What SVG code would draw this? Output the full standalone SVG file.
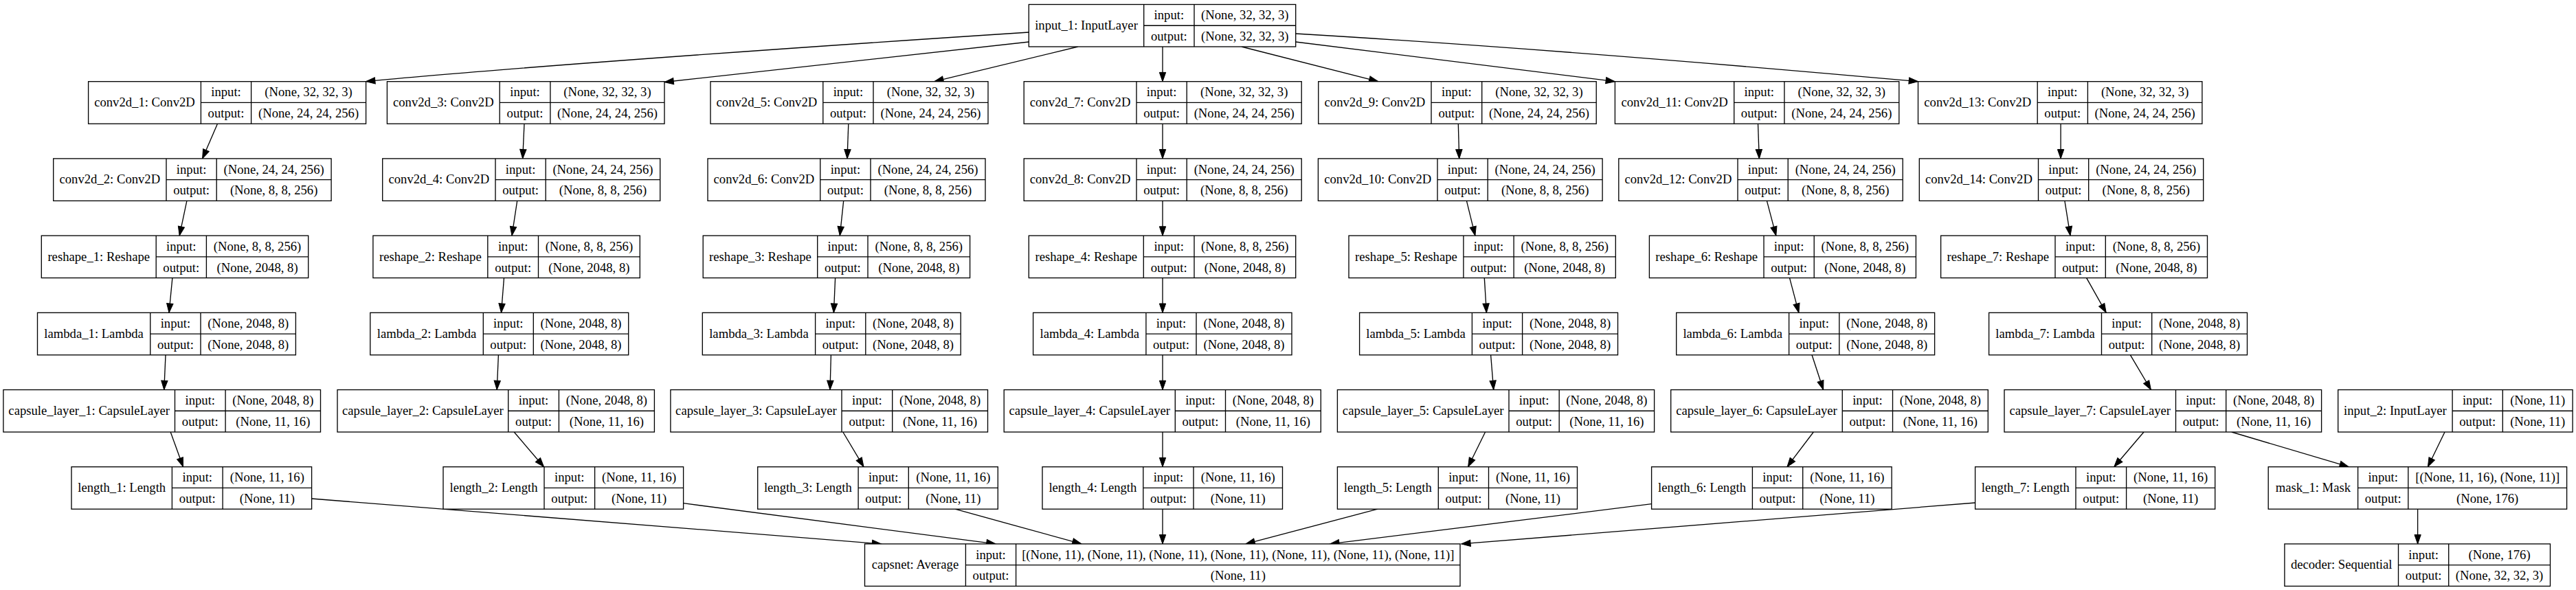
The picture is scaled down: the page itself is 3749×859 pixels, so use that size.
<svg xmlns="http://www.w3.org/2000/svg" width="3749" height="859" viewBox="0 0 3749 859">
<style>
.node rect{fill:#fff;stroke:#000;stroke-width:1.33}
.node path{fill:none;stroke:#000;stroke-width:1.33}
.node text{font-family:"Liberation Serif","Times New Roman",serif;font-size:18.67px;text-anchor:middle;fill:#000}
#edges path{fill:none;stroke:#000;stroke-width:1.33;marker-end:url(#arr)}
</style>
<defs>
<marker id="arr" markerUnits="userSpaceOnUse" viewBox="0 0 14 10" markerWidth="14" markerHeight="10" refX="13.3" refY="4.67" orient="auto" overflow="visible"><path d="M0,0 L13.3,4.67 L0,9.33 z" fill="#000" stroke="#000" stroke-width="1"/></marker>
</defs>
<rect x="0" y="0" width="3749" height="859" fill="#fff"/>
<g id="edges">
<path d="M1497.3,47 C997.3,79.5 652.6,106.7 532.6,118.7"/>
<path d="M1497.3,61 L967,119.5"/>
<path d="M1568.75,68 L1359.8,118.7"/>
<path d="M1692,68 L1692,118.7"/>
<path d="M1807,68 L2005.8,118.7"/>
<path d="M1885.7,61 L2350.4,118.7"/>
<path d="M1885.7,49 C2185.7,66.7 2491.5,91.7 2791.5,118.7"/>
<path d="M316.5,180.2 L294.6,230.9"/>
<path d="M271.9,292.4 L261.2,343.1"/>
<path d="M250.9,404.6 L246,455.3"/>
<path d="M241,516.8 L238.8,567.5"/>
<path d="M248.2,629 L266.5,679.7"/>
<path d="M763,180.2 L760.7,230.9"/>
<path d="M752.7,292.4 L745,343.1"/>
<path d="M733.5,404.6 L729.5,455.3"/>
<path d="M725.4,516.8 L723.2,567.5"/>
<path d="M748.2,629 L791.5,679.7"/>
<path d="M1234.8,180.2 L1233,230.9"/>
<path d="M1227.7,292.4 L1222.3,343.1"/>
<path d="M1215.6,404.6 L1213.4,455.3"/>
<path d="M1209.4,516.8 L1208,567.5"/>
<path d="M1226.8,629 L1257,679.7"/>
<path d="M1692,180.2 L1692,230.9"/>
<path d="M1692,292.4 L1692,343.1"/>
<path d="M1692,404.6 L1692,455.3"/>
<path d="M1692,516.8 L1692,567.5"/>
<path d="M1692,629 L1692,679.7"/>
<path d="M2122.3,180.2 L2123.7,230.9"/>
<path d="M2134.4,292.4 L2146.9,343.1"/>
<path d="M2160.3,404.6 L2163.4,455.3"/>
<path d="M2169.6,516.8 L2173.7,567.5"/>
<path d="M2161.6,629 L2136.6,679.7"/>
<path d="M2558.5,180.2 L2560.3,230.9"/>
<path d="M2571.4,292.4 L2584.8,343.1"/>
<path d="M2604.5,404.6 L2617.9,455.3"/>
<path d="M2637,516.8 L2653.6,567.5"/>
<path d="M2639.3,629 L2600.9,679.7"/>
<path d="M2999.1,180.2 L2999.1,230.9"/>
<path d="M3004.9,292.4 L3013,343.1"/>
<path d="M3036.6,404.6 L3065.2,455.3"/>
<path d="M3100.4,516.8 L3130.4,567.5"/>
<path d="M3120,629 L3076.8,679.7"/>
<path d="M3247.8,629 L3418.3,679.7"/>
<path d="M3558,629 L3533.4,679.7"/>
<path d="M3518.6,741.2 L3518.6,791.9"/>
<path d="M453.6,726 L1282.6,791.9"/>
<path d="M994.6,732.7 L1449,791.9"/>
<path d="M1390,741.2 L1574,791.9"/>
<path d="M1692,741.2 L1692,791.9"/>
<path d="M2005,741.2 L1813,791.9"/>
<path d="M2403.6,733.7 L1935.7,791.9"/>
<path d="M2874.6,732 L2126.8,791.9"/>
</g>

<g id="input_1" class="node" transform="translate(0,6.5)"><rect x="1497.3" y="0" width="388.4" height="61.5"/><path d="M1664.7,0V61.5M1738,0V61.5M1664.7,30.75H1885.7"/><text x="1581" y="36.5">input_1: InputLayer</text><text x="1701.35" y="21.8">input:</text><text x="1701.35" y="52.5">output:</text><text x="1811.85" y="21.8">(None, 32, 32, 3)</text><text x="1811.85" y="52.5">(None, 32, 32, 3)</text></g>

<g id="conv2d_1" class="node" transform="translate(0,118.7)"><rect x="128.6" y="0" width="404" height="61.5"/><path d="M292.4,0V61.5M365.6,0V61.5M292.4,30.75H532.6"/><text x="210.5" y="36.5">conv2d_1: Conv2D</text><text x="329" y="21.8">input:</text><text x="329" y="52.5">output:</text><text x="449.1" y="21.8">(None, 32, 32, 3)</text><text x="449.1" y="52.5">(None, 24, 24, 256)</text></g>
<g id="conv2d_3" class="node" transform="translate(0,118.7)"><rect x="563.4" y="0" width="403.6" height="61.5"/><path d="M727.2,0V61.5M800.9,0V61.5M727.2,30.75H967"/><text x="645.3" y="36.5">conv2d_3: Conv2D</text><text x="764.05" y="21.8">input:</text><text x="764.05" y="52.5">output:</text><text x="883.95" y="21.8">(None, 32, 32, 3)</text><text x="883.95" y="52.5">(None, 24, 24, 256)</text></g>
<g id="conv2d_5" class="node" transform="translate(0,118.7)"><rect x="1034" y="0" width="404" height="61.5"/><path d="M1197.8,0V61.5M1271,0V61.5M1197.8,30.75H1438"/><text x="1115.9" y="36.5">conv2d_5: Conv2D</text><text x="1234.4" y="21.8">input:</text><text x="1234.4" y="52.5">output:</text><text x="1354.5" y="21.8">(None, 32, 32, 3)</text><text x="1354.5" y="52.5">(None, 24, 24, 256)</text></g>
<g id="conv2d_7" class="node" transform="translate(0,118.7)"><rect x="1490.2" y="0" width="404" height="61.5"/><path d="M1654,0V61.5M1727.2,0V61.5M1654,30.75H1894.2"/><text x="1572.1" y="36.5">conv2d_7: Conv2D</text><text x="1690.6" y="21.8">input:</text><text x="1690.6" y="52.5">output:</text><text x="1810.7" y="21.8">(None, 32, 32, 3)</text><text x="1810.7" y="52.5">(None, 24, 24, 256)</text></g>
<g id="conv2d_9" class="node" transform="translate(0,118.7)"><rect x="1918.75" y="0" width="404.45" height="61.5"/><path d="M2083,0V61.5M2156.7,0V61.5M2083,30.75H2323.2"/><text x="2000.9" y="36.5">conv2d_9: Conv2D</text><text x="2119.85" y="21.8">input:</text><text x="2119.85" y="52.5">output:</text><text x="2239.95" y="21.8">(None, 32, 32, 3)</text><text x="2239.95" y="52.5">(None, 24, 24, 256)</text></g>
<g id="conv2d_11" class="node" transform="translate(0,118.7)"><rect x="2350.4" y="0" width="413.4" height="61.5"/><path d="M2523.7,0V61.5M2596.9,0V61.5M2523.7,30.75H2763.8"/><text x="2437.05" y="36.5">conv2d_11: Conv2D</text><text x="2560.3" y="21.8">input:</text><text x="2560.3" y="52.5">output:</text><text x="2680.35" y="21.8">(None, 32, 32, 3)</text><text x="2680.35" y="52.5">(None, 24, 24, 256)</text></g>
<g id="conv2d_13" class="node" transform="translate(0,118.7)"><rect x="2791.5" y="0" width="413.4" height="61.5"/><path d="M2965.2,0V61.5M3038.4,0V61.5M2965.2,30.75H3204.9"/><text x="2878.35" y="36.5">conv2d_13: Conv2D</text><text x="3001.8" y="21.8">input:</text><text x="3001.8" y="52.5">output:</text><text x="3121.65" y="21.8">(None, 32, 32, 3)</text><text x="3121.65" y="52.5">(None, 24, 24, 256)</text></g>

<g id="conv2d_2" class="node" transform="translate(0,230.9)"><rect x="77.7" y="0" width="404.4" height="61.5"/><path d="M242,0V61.5M315.2,0V61.5M242,30.75H482.1"/><text x="159.85" y="36.5">conv2d_2: Conv2D</text><text x="278.6" y="21.8">input:</text><text x="278.6" y="52.5">output:</text><text x="398.65" y="21.8">(None, 24, 24, 256)</text><text x="398.65" y="52.5">(None, 8, 8, 256)</text></g>
<g id="conv2d_4" class="node" transform="translate(0,230.9)"><rect x="556.7" y="0" width="404" height="61.5"/><path d="M721,0V61.5M794.2,0V61.5M721,30.75H960.7"/><text x="638.85" y="36.5">conv2d_4: Conv2D</text><text x="757.6" y="21.8">input:</text><text x="757.6" y="52.5">output:</text><text x="877.45" y="21.8">(None, 24, 24, 256)</text><text x="877.45" y="52.5">(None, 8, 8, 256)</text></g>
<g id="conv2d_6" class="node" transform="translate(0,230.9)"><rect x="1030" y="0" width="404" height="61.5"/><path d="M1193.75,0V61.5M1267,0V61.5M1193.75,30.75H1434"/><text x="1111.9" y="36.5">conv2d_6: Conv2D</text><text x="1230.4" y="21.8">input:</text><text x="1230.4" y="52.5">output:</text><text x="1350.5" y="21.8">(None, 24, 24, 256)</text><text x="1350.5" y="52.5">(None, 8, 8, 256)</text></g>
<g id="conv2d_8" class="node" transform="translate(0,230.9)"><rect x="1490.2" y="0" width="404" height="61.5"/><path d="M1654,0V61.5M1727.2,0V61.5M1654,30.75H1894.2"/><text x="1572.1" y="36.5">conv2d_8: Conv2D</text><text x="1690.6" y="21.8">input:</text><text x="1690.6" y="52.5">output:</text><text x="1810.7" y="21.8">(None, 24, 24, 256)</text><text x="1810.7" y="52.5">(None, 8, 8, 256)</text></g>
<g id="conv2d_10" class="node" transform="translate(0,230.9)"><rect x="1918.4" y="0" width="413.7" height="61.5"/><path d="M2092,0V61.5M2165.2,0V61.5M2092,30.75H2332.1"/><text x="2005.2" y="36.5">conv2d_10: Conv2D</text><text x="2128.6" y="21.8">input:</text><text x="2128.6" y="52.5">output:</text><text x="2248.65" y="21.8">(None, 24, 24, 256)</text><text x="2248.65" y="52.5">(None, 8, 8, 256)</text></g>
<g id="conv2d_12" class="node" transform="translate(0,230.9)"><rect x="2355.8" y="0" width="413.4" height="61.5"/><path d="M2529,0V61.5M2602.2,0V61.5M2529,30.75H2769.2"/><text x="2442.4" y="36.5">conv2d_12: Conv2D</text><text x="2565.6" y="21.8">input:</text><text x="2565.6" y="52.5">output:</text><text x="2685.7" y="21.8">(None, 24, 24, 256)</text><text x="2685.7" y="52.5">(None, 8, 8, 256)</text></g>
<g id="conv2d_14" class="node" transform="translate(0,230.9)"><rect x="2793.3" y="0" width="413.4" height="61.5"/><path d="M2966.5,0V61.5M3039.7,0V61.5M2966.5,30.75H3206.7"/><text x="2879.9" y="36.5">conv2d_14: Conv2D</text><text x="3003.1" y="21.8">input:</text><text x="3003.1" y="52.5">output:</text><text x="3123.2" y="21.8">(None, 24, 24, 256)</text><text x="3123.2" y="52.5">(None, 8, 8, 256)</text></g>

<g id="reshape_1" class="node" transform="translate(0,343.1)"><rect x="60.3" y="0" width="388.4" height="61.5"/><path d="M227.2,0V61.5M300.4,0V61.5M227.2,30.75H448.7"/><text x="143.75" y="36.5">reshape_1: Reshape</text><text x="263.8" y="21.8">input:</text><text x="263.8" y="52.5">output:</text><text x="374.55" y="21.8">(None, 8, 8, 256)</text><text x="374.55" y="52.5">(None, 2048, 8)</text></g>
<g id="reshape_2" class="node" transform="translate(0,343.1)"><rect x="542.9" y="0" width="388.4" height="61.5"/><path d="M709.8,0V61.5M783.5,0V61.5M709.8,30.75H931.3"/><text x="626.35" y="36.5">reshape_2: Reshape</text><text x="746.65" y="21.8">input:</text><text x="746.65" y="52.5">output:</text><text x="857.4" y="21.8">(None, 8, 8, 256)</text><text x="857.4" y="52.5">(None, 2048, 8)</text></g>
<g id="reshape_3" class="node" transform="translate(0,343.1)"><rect x="1023.2" y="0" width="388.4" height="61.5"/><path d="M1189.7,0V61.5M1263,0V61.5M1189.7,30.75H1411.6"/><text x="1106.45" y="36.5">reshape_3: Reshape</text><text x="1226.35" y="21.8">input:</text><text x="1226.35" y="52.5">output:</text><text x="1337.3" y="21.8">(None, 8, 8, 256)</text><text x="1337.3" y="52.5">(None, 2048, 8)</text></g>
<g id="reshape_4" class="node" transform="translate(0,343.1)"><rect x="1497.3" y="0" width="388.4" height="61.5"/><path d="M1664.3,0V61.5M1738,0V61.5M1664.3,30.75H1885.7"/><text x="1580.8" y="36.5">reshape_4: Reshape</text><text x="1701.15" y="21.8">input:</text><text x="1701.15" y="52.5">output:</text><text x="1811.85" y="21.8">(None, 8, 8, 256)</text><text x="1811.85" y="52.5">(None, 2048, 8)</text></g>
<g id="reshape_5" class="node" transform="translate(0,343.1)"><rect x="1963" y="0" width="388.3" height="61.5"/><path d="M2129.9,0V61.5M2203.1,0V61.5M2129.9,30.75H2351.3"/><text x="2046.45" y="36.5">reshape_5: Reshape</text><text x="2166.5" y="21.8">input:</text><text x="2166.5" y="52.5">output:</text><text x="2277.2" y="21.8">(None, 8, 8, 256)</text><text x="2277.2" y="52.5">(None, 2048, 8)</text></g>
<g id="reshape_6" class="node" transform="translate(0,343.1)"><rect x="2400.4" y="0" width="388" height="61.5"/><path d="M2567,0V61.5M2640.2,0V61.5M2567,30.75H2788.4"/><text x="2483.7" y="36.5">reshape_6: Reshape</text><text x="2603.6" y="21.8">input:</text><text x="2603.6" y="52.5">output:</text><text x="2714.3" y="21.8">(None, 8, 8, 256)</text><text x="2714.3" y="52.5">(None, 2048, 8)</text></g>
<g id="reshape_7" class="node" transform="translate(0,343.1)"><rect x="2824.6" y="0" width="387.9" height="61.5"/><path d="M2991,0V61.5M3064.3,0V61.5M2991,30.75H3212.5"/><text x="2907.8" y="36.5">reshape_7: Reshape</text><text x="3027.65" y="21.8">input:</text><text x="3027.65" y="52.5">output:</text><text x="3138.4" y="21.8">(None, 8, 8, 256)</text><text x="3138.4" y="52.5">(None, 2048, 8)</text></g>

<g id="lambda_1" class="node" transform="translate(0,455.3)"><rect x="54.5" y="0" width="375.9" height="61.5"/><path d="M218.75,0V61.5M292,0V61.5M218.75,30.75H430.4"/><text x="136.6" y="36.5">lambda_1: Lambda</text><text x="255.4" y="21.8">input:</text><text x="255.4" y="52.5">output:</text><text x="361.2" y="21.8">(None, 2048, 8)</text><text x="361.2" y="52.5">(None, 2048, 8)</text></g>
<g id="lambda_2" class="node" transform="translate(0,455.3)"><rect x="538.8" y="0" width="375.9" height="61.5"/><path d="M703.3,0V61.5M776.3,0V61.5M703.3,30.75H914.7"/><text x="621.05" y="36.5">lambda_2: Lambda</text><text x="739.8" y="21.8">input:</text><text x="739.8" y="52.5">output:</text><text x="845.5" y="21.8">(None, 2048, 8)</text><text x="845.5" y="52.5">(None, 2048, 8)</text></g>
<g id="lambda_3" class="node" transform="translate(0,455.3)"><rect x="1022.3" y="0" width="375.9" height="61.5"/><path d="M1186.6,0V61.5M1259.8,0V61.5M1186.6,30.75H1398.2"/><text x="1104.45" y="36.5">lambda_3: Lambda</text><text x="1223.2" y="21.8">input:</text><text x="1223.2" y="52.5">output:</text><text x="1329" y="21.8">(None, 2048, 8)</text><text x="1329" y="52.5">(None, 2048, 8)</text></g>
<g id="lambda_4" class="node" transform="translate(0,455.3)"><rect x="1503.6" y="0" width="376.4" height="61.5"/><path d="M1667.9,0V61.5M1741,0V61.5M1667.9,30.75H1880"/><text x="1585.75" y="36.5">lambda_4: Lambda</text><text x="1704.45" y="21.8">input:</text><text x="1704.45" y="52.5">output:</text><text x="1810.5" y="21.8">(None, 2048, 8)</text><text x="1810.5" y="52.5">(None, 2048, 8)</text></g>
<g id="lambda_5" class="node" transform="translate(0,455.3)"><rect x="1978.6" y="0" width="375.9" height="61.5"/><path d="M2142.4,0V61.5M2215.6,0V61.5M2142.4,30.75H2354.5"/><text x="2060.5" y="36.5">lambda_5: Lambda</text><text x="2179" y="21.8">input:</text><text x="2179" y="52.5">output:</text><text x="2285.05" y="21.8">(None, 2048, 8)</text><text x="2285.05" y="52.5">(None, 2048, 8)</text></g>
<g id="lambda_6" class="node" transform="translate(0,455.3)"><rect x="2439.7" y="0" width="375.9" height="61.5"/><path d="M2603.6,0V61.5M2676.8,0V61.5M2603.6,30.75H2815.6"/><text x="2521.65" y="36.5">lambda_6: Lambda</text><text x="2640.2" y="21.8">input:</text><text x="2640.2" y="52.5">output:</text><text x="2746.2" y="21.8">(None, 2048, 8)</text><text x="2746.2" y="52.5">(None, 2048, 8)</text></g>
<g id="lambda_7" class="node" transform="translate(0,455.3)"><rect x="2894.6" y="0" width="375.9" height="61.5"/><path d="M3058.5,0V61.5M3131.7,0V61.5M3058.5,30.75H3270.5"/><text x="2976.55" y="36.5">lambda_7: Lambda</text><text x="3095.1" y="21.8">input:</text><text x="3095.1" y="52.5">output:</text><text x="3201.1" y="21.8">(None, 2048, 8)</text><text x="3201.1" y="52.5">(None, 2048, 8)</text></g>

<g id="capsule_layer_1" class="node" transform="translate(0,567.5)"><rect x="4.9" y="0" width="461.6" height="61.5"/><path d="M254.5,0V61.5M328.1,0V61.5M254.5,30.75H466.5"/><text x="129.7" y="36.5">capsule_layer_1: CapsuleLayer</text><text x="291.3" y="21.8">input:</text><text x="291.3" y="52.5">output:</text><text x="397.3" y="21.8">(None, 2048, 8)</text><text x="397.3" y="52.5">(None, 11, 16)</text></g>
<g id="capsule_layer_2" class="node" transform="translate(0,567.5)"><rect x="491" y="0" width="461.4" height="61.5"/><path d="M739.7,0V61.5M813.4,0V61.5M739.7,30.75H952.4"/><text x="615.35" y="36.5">capsule_layer_2: CapsuleLayer</text><text x="776.55" y="21.8">input:</text><text x="776.55" y="52.5">output:</text><text x="882.9" y="21.8">(None, 2048, 8)</text><text x="882.9" y="52.5">(None, 11, 16)</text></g>
<g id="capsule_layer_3" class="node" transform="translate(0,567.5)"><rect x="975.9" y="0" width="461.6" height="61.5"/><path d="M1225,0V61.5M1298.7,0V61.5M1225,30.75H1437.5"/><text x="1100.45" y="36.5">capsule_layer_3: CapsuleLayer</text><text x="1261.85" y="21.8">input:</text><text x="1261.85" y="52.5">output:</text><text x="1368.1" y="21.8">(None, 2048, 8)</text><text x="1368.1" y="52.5">(None, 11, 16)</text></g>
<g id="capsule_layer_4" class="node" transform="translate(0,567.5)"><rect x="1461.2" y="0" width="461.1" height="61.5"/><path d="M1710.3,0V61.5M1783.5,0V61.5M1710.3,30.75H1922.3"/><text x="1585.75" y="36.5">capsule_layer_4: CapsuleLayer</text><text x="1746.9" y="21.8">input:</text><text x="1746.9" y="52.5">output:</text><text x="1852.9" y="21.8">(None, 2048, 8)</text><text x="1852.9" y="52.5">(None, 11, 16)</text></g>
<g id="capsule_layer_5" class="node" transform="translate(0,567.5)"><rect x="1946.4" y="0" width="461.2" height="61.5"/><path d="M2196,0V61.5M2269.2,0V61.5M2196,30.75H2407.6"/><text x="2071.2" y="36.5">capsule_layer_5: CapsuleLayer</text><text x="2232.6" y="21.8">input:</text><text x="2232.6" y="52.5">output:</text><text x="2338.4" y="21.8">(None, 2048, 8)</text><text x="2338.4" y="52.5">(None, 11, 16)</text></g>
<g id="capsule_layer_6" class="node" transform="translate(0,567.5)"><rect x="2431.7" y="0" width="461.6" height="61.5"/><path d="M2681.25,0V61.5M2754.5,0V61.5M2681.25,30.75H2893.3"/><text x="2556.5" y="36.5">capsule_layer_6: CapsuleLayer</text><text x="2717.9" y="21.8">input:</text><text x="2717.9" y="52.5">output:</text><text x="2823.9" y="21.8">(None, 2048, 8)</text><text x="2823.9" y="52.5">(None, 11, 16)</text></g>
<g id="capsule_layer_7" class="node" transform="translate(0,567.5)"><rect x="2917" y="0" width="461.6" height="61.5"/><path d="M3166.5,0V61.5M3239.7,0V61.5M3166.5,30.75H3378.6"/><text x="3041.75" y="36.5">capsule_layer_7: CapsuleLayer</text><text x="3203.1" y="21.8">input:</text><text x="3203.1" y="52.5">output:</text><text x="3309.15" y="21.8">(None, 2048, 8)</text><text x="3309.15" y="52.5">(None, 11, 16)</text></g>
<g id="input_2" class="node" transform="translate(0,567.5)"><rect x="3402.7" y="0" width="341.4" height="61.5"/><path d="M3569.1,0V61.5M3642.3,0V61.5M3569.1,30.75H3744.1"/><text x="3485.9" y="36.5">input_2: InputLayer</text><text x="3605.7" y="21.8">input:</text><text x="3605.7" y="52.5">output:</text><text x="3693.2" y="21.8">(None, 11)</text><text x="3693.2" y="52.5">(None, 11)</text></g>

<g id="length_1" class="node" transform="translate(0,679.7)"><rect x="104" y="0" width="349.6" height="61.5"/><path d="M250.4,0V61.5M324.1,0V61.5M250.4,30.75H453.6"/><text x="177.2" y="36.5">length_1: Length</text><text x="287.25" y="21.8">input:</text><text x="287.25" y="52.5">output:</text><text x="388.85" y="21.8">(None, 11, 16)</text><text x="388.85" y="52.5">(None, 11)</text></g>
<g id="length_2" class="node" transform="translate(0,679.7)"><rect x="645" y="0" width="349.6" height="61.5"/><path d="M792,0V61.5M865.6,0V61.5M792,30.75H994.6"/><text x="718.5" y="36.5">length_2: Length</text><text x="828.8" y="21.8">input:</text><text x="828.8" y="52.5">output:</text><text x="930.1" y="21.8">(None, 11, 16)</text><text x="930.1" y="52.5">(None, 11)</text></g>
<g id="length_3" class="node" transform="translate(0,679.7)"><rect x="1102.7" y="0" width="349.6" height="61.5"/><path d="M1249.1,0V61.5M1322.3,0V61.5M1249.1,30.75H1452.3"/><text x="1175.9" y="36.5">length_3: Length</text><text x="1285.7" y="21.8">input:</text><text x="1285.7" y="52.5">output:</text><text x="1387.3" y="21.8">(None, 11, 16)</text><text x="1387.3" y="52.5">(None, 11)</text></g>
<g id="length_4" class="node" transform="translate(0,679.7)"><rect x="1517" y="0" width="349.5" height="61.5"/><path d="M1663.8,0V61.5M1737,0V61.5M1663.8,30.75H1866.5"/><text x="1590.4" y="36.5">length_4: Length</text><text x="1700.4" y="21.8">input:</text><text x="1700.4" y="52.5">output:</text><text x="1801.75" y="21.8">(None, 11, 16)</text><text x="1801.75" y="52.5">(None, 11)</text></g>
<g id="length_5" class="node" transform="translate(0,679.7)"><rect x="1946.4" y="0" width="349.1" height="61.5"/><path d="M2093.3,0V61.5M2166.5,0V61.5M2093.3,30.75H2295.5"/><text x="2019.85" y="36.5">length_5: Length</text><text x="2129.9" y="21.8">input:</text><text x="2129.9" y="52.5">output:</text><text x="2231" y="21.8">(None, 11, 16)</text><text x="2231" y="52.5">(None, 11)</text></g>
<g id="length_6" class="node" transform="translate(0,679.7)"><rect x="2403.6" y="0" width="349.5" height="61.5"/><path d="M2550.4,0V61.5M2623.7,0V61.5M2550.4,30.75H2753.1"/><text x="2477" y="36.5">length_6: Length</text><text x="2587.05" y="21.8">input:</text><text x="2587.05" y="52.5">output:</text><text x="2688.4" y="21.8">(None, 11, 16)</text><text x="2688.4" y="52.5">(None, 11)</text></g>
<g id="length_7" class="node" transform="translate(0,679.7)"><rect x="2874.6" y="0" width="349.1" height="61.5"/><path d="M3021,0V61.5M3094.6,0V61.5M3021,30.75H3223.7"/><text x="2947.8" y="36.5">length_7: Length</text><text x="3057.8" y="21.8">input:</text><text x="3057.8" y="52.5">output:</text><text x="3159.15" y="21.8">(None, 11, 16)</text><text x="3159.15" y="52.5">(None, 11)</text></g>
<g id="mask_1" class="node" transform="translate(0,679.7)"><rect x="3301.2" y="0" width="434.4" height="61.5"/><path d="M3431.6,0V61.5M3504.8,0V61.5M3431.6,30.75H3735.6"/><text x="3366.4" y="36.5">mask_1: Mask</text><text x="3468.2" y="21.8">input:</text><text x="3468.2" y="52.5">output:</text><text x="3620.2" y="21.8">[(None, 11, 16), (None, 11)]</text><text x="3620.2" y="52.5">(None, 176)</text></g>

<g id="capsnet" class="node" transform="translate(0,791.9)"><rect x="1258.5" y="0" width="866.5" height="61.5"/><path d="M1405.4,0V61.5M1478.6,0V61.5M1405.4,30.75H2125"/><text x="1331.95" y="36.5">capsnet: Average</text><text x="1442" y="21.8">input:</text><text x="1442" y="52.5">output:</text><text x="1801.8" y="21.8">[(None, 11), (None, 11), (None, 11), (None, 11), (None, 11), (None, 11), (None, 11)]</text><text x="1801.8" y="52.5">(None, 11)</text></g>
<g id="decoder" class="node" transform="translate(0,791.9)"><rect x="3324.9" y="0" width="386.6" height="61.5"/><path d="M3490.5,0V61.5M3563.7,0V61.5M3490.5,30.75H3711.5"/><text x="3407.7" y="36.5">decoder: Sequential</text><text x="3527.1" y="21.8">input:</text><text x="3527.1" y="52.5">output:</text><text x="3637.6" y="21.8">(None, 176)</text><text x="3637.6" y="52.5">(None, 32, 32, 3)</text></g>
</svg>
